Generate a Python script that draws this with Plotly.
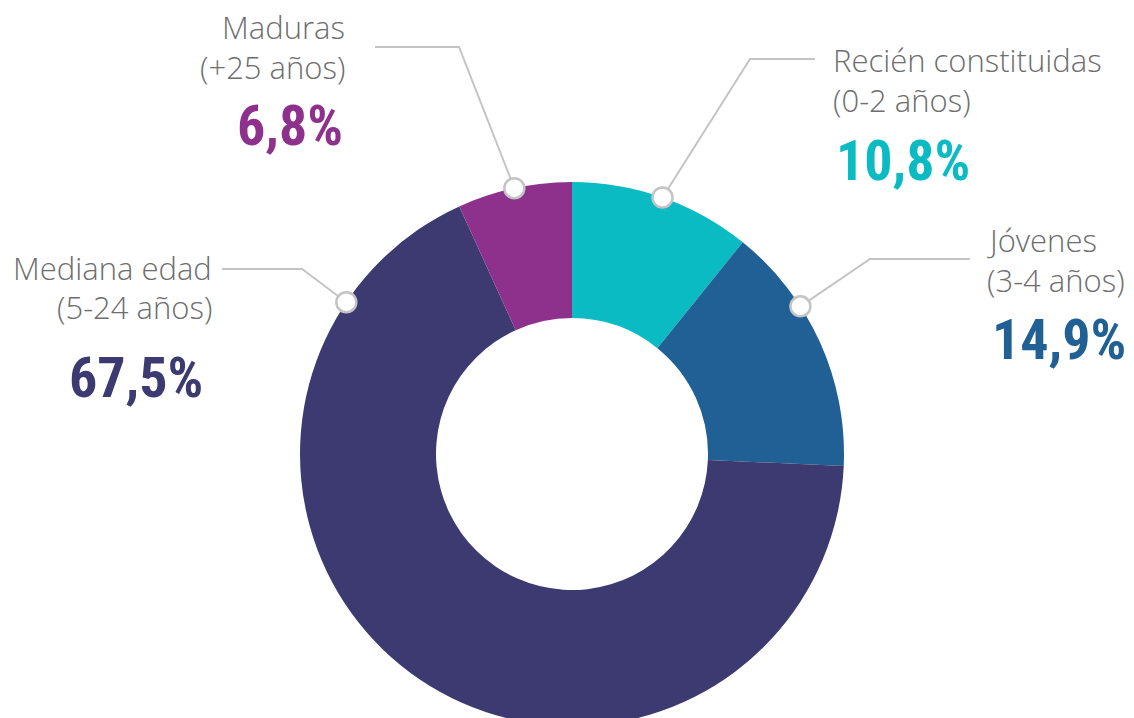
import math

import plotly.graph_objects as go

# data
segments = ["Recién constituidas", "Jóvenes", "Mediana edad", "Maduras"]
age_ranges = ["(0-2 años)", "(3-4 años)", "(5-24 años)", "(+25 años)"]
shares = [10.8, 14.9, 67.5, 6.8]
share_labels = ["10,8%", "14,9%", "67,5%", "6,8%"]

colors = ["#0bbbc3", "#206094", "#3d3a71", "#8e318d"]
TEXT_GREY = "#6e6e6e"
LINE_GREY = "#c4c4c4"

OFF = 8            # page body margin
W, H = 1126, 732   # figure size (bottom of donut runs off the window)
CX, CY, R = 572, 454, 272  # donut centre / radius in page pixels
DOT_R = 10

# where each callout dot sits inside its slice (fraction of the slice arc)
dot_frac = [0.5, 0.34, 0.87, 0.5]
# callout geometry in page pixels: elbow, line end, text x, pct x, line centres
callouts = [
    dict(elbow=(750, 59), end=(815, 59), tx=831, px=834, side="left", ys=(60, 100, 161)),
    dict(elbow=(870, 259), end=(970, 259), tx=985, px=990, side="left", ys=(240, 280, 340)),
    dict(elbow=(302, 269), end=(222, 269), tx=214, px=205, side="right", ys=(268, 307, 378)),
    dict(elbow=(459, 47), end=(375, 47), tx=347, px=345, side="right", ys=(27, 67, 126)),
]

LABEL_FONT = dict(family="Open Sans", size=31, color=TEXT_GREY, weight=300)
PCT_FAMILY = "Roboto Condensed, Roboto, sans-serif"


def px(x):
    return (x - OFF) / W


def py(y):
    return 1 - (y - OFF) / H


fig = go.Figure()

fig.add_trace(go.Pie(
    labels=segments,
    values=shares,
    sort=False,
    direction="clockwise",
    rotation=0,
    hole=0.5,
    marker=dict(colors=colors, line=dict(width=0)),
    textinfo="none",
    hoverinfo="label+percent",
    showlegend=False,
    domain=dict(x=[px(CX - R), px(CX + R)], y=[py(CY + R), py(CY - R)]),
))

total = sum(shares)
start = 0.0
for i, v in enumerate(shares):
    ang = math.radians((start + v * dot_frac[i]) / total * 360)
    start += v
    dx, dy = CX + R * math.sin(ang), CY - R * math.cos(ang)
    c = callouts[i]

    # leader line
    fig.add_shape(
        type="path", xref="x", yref="y", layer="above",
        path=f"M {dx},{dy} L {c['elbow'][0]},{c['elbow'][1]} L {c['end'][0]},{c['end'][1]}",
        line=dict(color=LINE_GREY, width=2),
    )
    # dot with a faint shadow
    fig.add_shape(
        type="circle", xref="x", yref="y", layer="above",
        x0=dx - DOT_R + 0.5, x1=dx + DOT_R + 0.5, y0=dy - DOT_R + 1.5, y1=dy + DOT_R + 1.5,
        fillcolor="rgba(0,0,0,0.12)", line=dict(width=0),
    )
    fig.add_shape(
        type="circle", xref="x", yref="y", layer="above",
        x0=dx - DOT_R, x1=dx + DOT_R, y0=dy - DOT_R, y1=dy + DOT_R,
        fillcolor="white", line=dict(color=LINE_GREY, width=2.5),
    )

    xanchor = "left" if c["side"] == "left" else "right"
    for text, y, x, font in [
        (segments[i], c["ys"][0], c["tx"], LABEL_FONT),
        (age_ranges[i], c["ys"][1], c["tx"], LABEL_FONT),
        (share_labels[i], c["ys"][2], c["px"], dict(family=PCT_FAMILY, size=56, color=colors[i], weight="bold")),
    ]:
        fig.add_annotation(
            x=px(x), y=py(y), xref="paper", yref="paper",
            text=text, showarrow=False, xanchor=xanchor, yanchor="middle",
            font=font,
        )

fig.update_layout(
    width=W,
    height=H,
    margin=dict(l=0, r=0, t=0, b=0),
    paper_bgcolor="white",
    plot_bgcolor="rgba(0,0,0,0)",
    xaxis=dict(range=[OFF, OFF + W], visible=False, fixedrange=True),
    yaxis=dict(range=[OFF + H, OFF], visible=False, fixedrange=True),
)

fig.write_html("out.html")
